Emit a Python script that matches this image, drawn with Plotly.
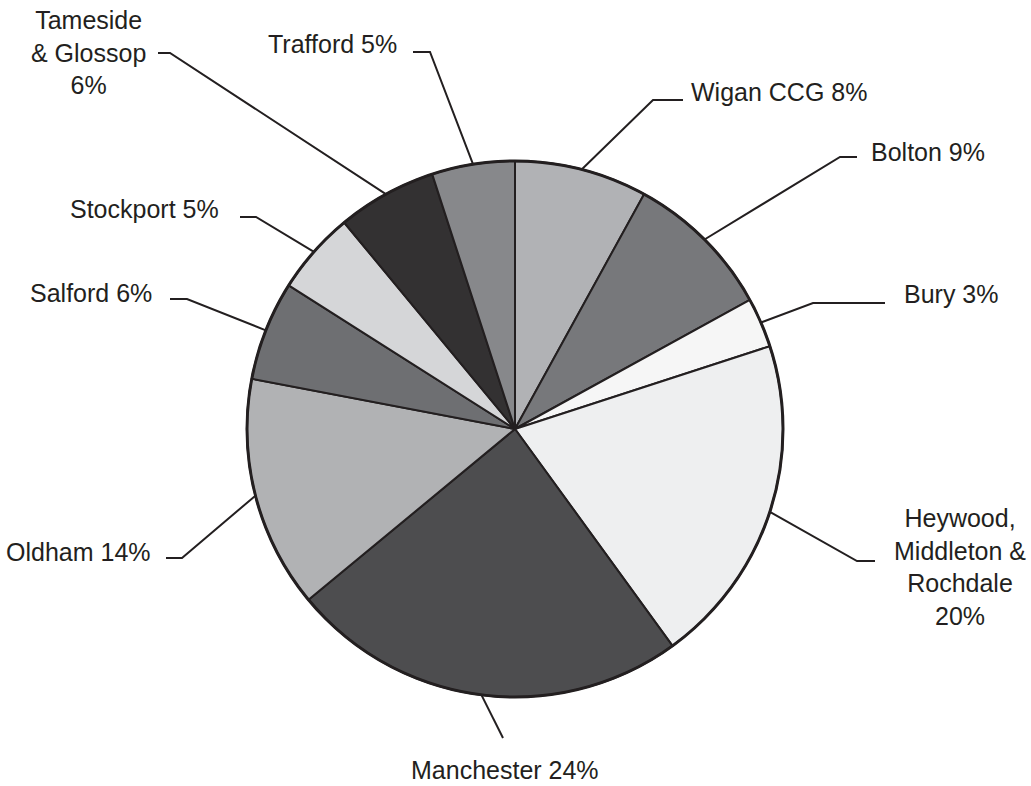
"""Pie chart — share by CCG (Greater Manchester), Excel-style leader lines."""

import math

import plotly.graph_objects as go

# --- data -------------------------------------------------------------------
ccg_names = [
    "Wigan CCG",
    "Bolton",
    "Bury",
    "Heywood,<br>Middleton &<br>Rochdale",
    "Manchester",
    "Oldham",
    "Salford",
    "Stockport",
    "Tameside<br>& Glossop",
    "Trafford",
]
ccg_share = [8, 9, 3, 20, 24, 14, 6, 5, 6, 5]
slice_colors = [
    "#b1b2b5", "#77787b", "#f6f6f6", "#eeeff0", "#4d4d4f",
    "#b1b2b4", "#6e6f72", "#d5d6d8", "#333132", "#87888b",
]
# label layout: (elbow x, elbow y, tail x, text x, text y, xanchor)  -- in px
label_layout = [
    (653, 100, 683, 690, 92, "left"),
    (840, 157, 857, 870, 152, "left"),
    (813, 303, 885, 903, 294, "left"),
    (857, 561, 875, 960, 567, "center"),
    (503, 738, 503, 505, 770, "center"),
    (182, 558, 166, 152, 552, "right"),
    (187, 299, 170, 153, 293, "right"),
    (256, 217, 240, 220, 209, "right"),
    (170, 53, 158, 88, 52, "center"),
    (430, 52, 413, 398, 44, "right"),
]

W, H = 1031, 786
CX, CY, R = 515, 429, 268
INK = "#231f20"

fig = go.Figure()

fig.add_trace(
    go.Pie(
        labels=[n.replace("<br>", " ") for n in ccg_names],
        values=ccg_share,
        sort=False,
        direction="clockwise",
        rotation=0,
        textinfo="none",
        hoverinfo="label+percent",
        marker={"colors": slice_colors, "line": {"color": INK, "width": 2}},
        domain={
            "x": [(CX - R) / W, (CX + R) / W],
            "y": [1 - (CY + R) / H, 1 - (CY - R) / H],
        },
        showlegend=False,
    )
)

# leader lines: from pie edge at mid-angle -> elbow -> short horizontal tail
total = float(sum(ccg_share))
lx, ly = [], []
cum = 0.0
for val, (ex, ey, tx, _, _, _) in zip(ccg_share, label_layout):
    mid = (cum + val / 2.0) / total * 2 * math.pi
    cum += val
    sx = CX + R * math.sin(mid)
    sy = CY - R * math.cos(mid)
    lx += [sx, ex, tx, None]
    ly += [sy, ey, ey, None]

fig.add_trace(
    go.Scatter(
        x=lx,
        y=ly,
        mode="lines",
        line={"color": INK, "width": 2},
        hoverinfo="skip",
        showlegend=False,
    )
)

for name, val, (_, _, _, txx, txy, anchor) in zip(ccg_names, ccg_share, label_layout):
    fig.add_annotation(
        x=txx,
        y=txy,
        xref="x",
        yref="y",
        text=f"{name} {val}%" if "<br>" not in name else f"{name}<br>{val}%",
        showarrow=False,
        xanchor=anchor,
        yanchor="middle",
        borderpad=0,
        align="center" if anchor == "center" else anchor,
        font={"family": "Liberation Sans, Arial, sans-serif", "size": 25, "color": INK},
    )

# thicker outer rim
fig.add_shape(
    type="circle",
    xref="x",
    yref="y",
    x0=CX - R,
    x1=CX + R,
    y0=CY - R,
    y1=CY + R,
    line={"color": INK, "width": 3},
)

fig.update_layout(
    width=W,
    height=H,
    margin={"l": 0, "r": 0, "t": 0, "b": 0},
    paper_bgcolor="white",
    plot_bgcolor="white",
    xaxis={"range": [0, W], "visible": False, "fixedrange": True},
    yaxis={"range": [H, 0], "visible": False, "fixedrange": True},
)

# page body has a default 8px margin; drop it so the figure fills the window
fig.write_html(
    "out.html",
    config={"displayModeBar": False},
    post_script="document.body.style.margin='0';",
)
